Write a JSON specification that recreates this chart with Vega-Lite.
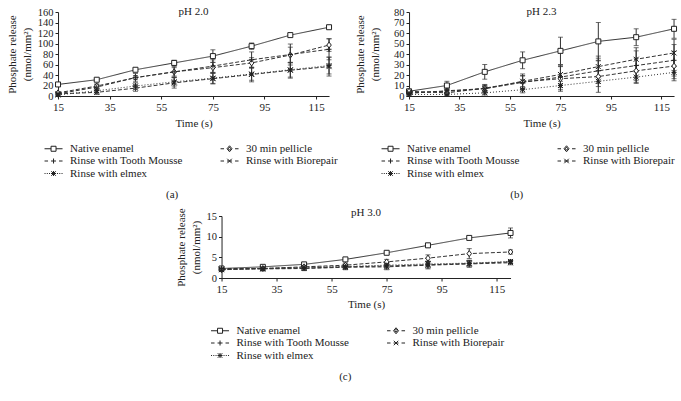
{
"$schema": "https://vega.github.io/schema/vega-lite/v6.json",
"padding": {"left": 6, "top": 6, "right": 0, "bottom": 0},
"background": "white",
"config": {
  "font": "Liberation Serif",
  "view": {"stroke": null},
  "axis": {"labelFont": "Liberation Serif", "titleFont": "Liberation Serif", "labelFontSize": 11, "titleFontSize": 11, "titleFontWeight": "normal", "titleLineHeight": 15, "labelColor": "#222", "titleColor": "#222", "domainColor": "#222", "tickColor": "#222", "grid": false, "tickSize": 3, "labelPadding": 2},
  "axisY": {"labelOverlap": false, "labelFontSize": 10.5},
  "title": {"font": "Liberation Serif", "fontSize": 11, "fontWeight": "normal", "color": "#222"},
  "legend": {"labelFont": "Liberation Serif", "labelFontSize": 11, "labelColor": "#222", "padding": 0},
  "concat": {"spacing": 16}
},
"datasets": {
  "a": [
    {"s":"Native enamel","t":15,"v":22,"e":2},{"s":"Native enamel","t":30,"v":31,"e":2},{"s":"Native enamel","t":45,"v":50,"e":2},{"s":"Native enamel","t":60,"v":63,"e":5},{"s":"Native enamel","t":75,"v":76,"e":12},{"s":"Native enamel","t":90,"v":95,"e":6},{"s":"Native enamel","t":105,"v":116,"e":2},{"s":"Native enamel","t":120,"v":131,"e":2},
    {"s":"30 min pellicle","t":15,"v":6,"e":2},{"s":"30 min pellicle","t":30,"v":19,"e":4},{"s":"30 min pellicle","t":45,"v":35,"e":4},{"s":"30 min pellicle","t":60,"v":46,"e":8},{"s":"30 min pellicle","t":75,"v":54,"e":10},{"s":"30 min pellicle","t":90,"v":63,"e":10},{"s":"30 min pellicle","t":105,"v":78,"e":15},{"s":"30 min pellicle","t":120,"v":97,"e":12},
    {"s":"Rinse with Tooth Mousse","t":15,"v":4,"e":2},{"s":"Rinse with Tooth Mousse","t":30,"v":17,"e":5},{"s":"Rinse with Tooth Mousse","t":45,"v":35,"e":8},{"s":"Rinse with Tooth Mousse","t":60,"v":46,"e":10},{"s":"Rinse with Tooth Mousse","t":75,"v":57,"e":12},{"s":"Rinse with Tooth Mousse","t":90,"v":69,"e":15},{"s":"Rinse with Tooth Mousse","t":105,"v":79,"e":20},{"s":"Rinse with Tooth Mousse","t":120,"v":89,"e":20},
    {"s":"Rinse with Biorepair","t":15,"v":4,"e":2},{"s":"Rinse with Biorepair","t":30,"v":7,"e":4},{"s":"Rinse with Biorepair","t":45,"v":15,"e":6},{"s":"Rinse with Biorepair","t":60,"v":25,"e":10},{"s":"Rinse with Biorepair","t":75,"v":33,"e":10},{"s":"Rinse with Biorepair","t":90,"v":41,"e":14},{"s":"Rinse with Biorepair","t":105,"v":49,"e":15},{"s":"Rinse with Biorepair","t":120,"v":56,"e":18},
    {"s":"Rinse with elmex","t":15,"v":2,"e":2},{"s":"Rinse with elmex","t":30,"v":10,"e":4},{"s":"Rinse with elmex","t":45,"v":19,"e":6},{"s":"Rinse with elmex","t":60,"v":27,"e":8},{"s":"Rinse with elmex","t":75,"v":34,"e":10},{"s":"Rinse with elmex","t":90,"v":42,"e":12},{"s":"Rinse with elmex","t":105,"v":50,"e":14},{"s":"Rinse with elmex","t":120,"v":58,"e":16}
  ],
  "b": [
    {"s":"Native enamel","t":15,"v":4.5,"e":1},{"s":"Native enamel","t":30,"v":10,"e":4},{"s":"Native enamel","t":45,"v":23,"e":7},{"s":"Native enamel","t":60,"v":34,"e":8},{"s":"Native enamel","t":75,"v":43,"e":13},{"s":"Native enamel","t":90,"v":52,"e":18},{"s":"Native enamel","t":105,"v":56,"e":8},{"s":"Native enamel","t":120,"v":64,"e":9},
    {"s":"30 min pellicle","t":15,"v":4.5,"e":1},{"s":"30 min pellicle","t":30,"v":3,"e":2},{"s":"30 min pellicle","t":45,"v":7.5,"e":3},{"s":"30 min pellicle","t":60,"v":13.5,"e":6},{"s":"30 min pellicle","t":75,"v":16.5,"e":12},{"s":"30 min pellicle","t":90,"v":18.5,"e":15},{"s":"30 min pellicle","t":105,"v":24,"e":12},{"s":"30 min pellicle","t":120,"v":28.5,"e":14},
    {"s":"Rinse with Tooth Mousse","t":15,"v":2.5,"e":1},{"s":"Rinse with Tooth Mousse","t":30,"v":5,"e":2},{"s":"Rinse with Tooth Mousse","t":45,"v":7,"e":3},{"s":"Rinse with Tooth Mousse","t":60,"v":13,"e":6},{"s":"Rinse with Tooth Mousse","t":75,"v":18,"e":10},{"s":"Rinse with Tooth Mousse","t":90,"v":24,"e":12},{"s":"Rinse with Tooth Mousse","t":105,"v":29,"e":14},{"s":"Rinse with Tooth Mousse","t":120,"v":34,"e":15},
    {"s":"Rinse with Biorepair","t":15,"v":3,"e":1},{"s":"Rinse with Biorepair","t":30,"v":4.5,"e":2},{"s":"Rinse with Biorepair","t":45,"v":7,"e":4},{"s":"Rinse with Biorepair","t":60,"v":14,"e":7},{"s":"Rinse with Biorepair","t":75,"v":20.5,"e":9},{"s":"Rinse with Biorepair","t":90,"v":28,"e":10},{"s":"Rinse with Biorepair","t":105,"v":35,"e":11},{"s":"Rinse with Biorepair","t":120,"v":41,"e":13},
    {"s":"Rinse with elmex","t":15,"v":1.5,"e":1},{"s":"Rinse with elmex","t":30,"v":1.5,"e":1},{"s":"Rinse with elmex","t":45,"v":3,"e":2},{"s":"Rinse with elmex","t":60,"v":6,"e":3},{"s":"Rinse with elmex","t":75,"v":10,"e":4},{"s":"Rinse with elmex","t":90,"v":14,"e":5},{"s":"Rinse with elmex","t":105,"v":18,"e":5},{"s":"Rinse with elmex","t":120,"v":22.5,"e":6}
  ],
  "c": [
    {"s":"Native enamel","t":15,"v":2.3,"e":0.3},{"s":"Native enamel","t":30,"v":2.7,"e":0.3},{"s":"Native enamel","t":45,"v":3.3,"e":0.3},{"s":"Native enamel","t":60,"v":4.5,"e":0.3},{"s":"Native enamel","t":75,"v":6.1,"e":0.4},{"s":"Native enamel","t":90,"v":7.9,"e":0.5},{"s":"Native enamel","t":105,"v":9.7,"e":0.4},{"s":"Native enamel","t":120,"v":10.9,"e":1.2},
    {"s":"30 min pellicle","t":15,"v":2.0,"e":0.3},{"s":"30 min pellicle","t":30,"v":2.3,"e":0.4},{"s":"30 min pellicle","t":45,"v":2.7,"e":0.4},{"s":"30 min pellicle","t":60,"v":3.1,"e":0.5},{"s":"30 min pellicle","t":75,"v":3.9,"e":0.6},{"s":"30 min pellicle","t":90,"v":4.8,"e":0.8},{"s":"30 min pellicle","t":105,"v":5.9,"e":1.2},{"s":"30 min pellicle","t":120,"v":6.3,"e":0.5},
    {"s":"Rinse with Tooth Mousse","t":15,"v":2.3,"e":0.3},{"s":"Rinse with Tooth Mousse","t":30,"v":2.3,"e":0.5},{"s":"Rinse with Tooth Mousse","t":45,"v":2.4,"e":0.6},{"s":"Rinse with Tooth Mousse","t":60,"v":2.7,"e":0.6},{"s":"Rinse with Tooth Mousse","t":75,"v":2.9,"e":0.7},{"s":"Rinse with Tooth Mousse","t":90,"v":3.2,"e":0.8},{"s":"Rinse with Tooth Mousse","t":105,"v":3.5,"e":0.8},{"s":"Rinse with Tooth Mousse","t":120,"v":3.9,"e":0.4},
    {"s":"Rinse with Biorepair","t":15,"v":2.1,"e":0.3},{"s":"Rinse with Biorepair","t":30,"v":2.2,"e":0.5},{"s":"Rinse with Biorepair","t":45,"v":2.3,"e":0.5},{"s":"Rinse with Biorepair","t":60,"v":2.6,"e":0.6},{"s":"Rinse with Biorepair","t":75,"v":2.7,"e":0.7},{"s":"Rinse with Biorepair","t":90,"v":3.1,"e":0.9},{"s":"Rinse with Biorepair","t":105,"v":3.4,"e":0.8},{"s":"Rinse with Biorepair","t":120,"v":3.7,"e":0.5},
    {"s":"Rinse with elmex","t":15,"v":2.0,"e":0.3},{"s":"Rinse with elmex","t":30,"v":2.3,"e":0.4},{"s":"Rinse with elmex","t":45,"v":2.6,"e":0.5},{"s":"Rinse with elmex","t":60,"v":2.8,"e":0.5},{"s":"Rinse with elmex","t":75,"v":3.1,"e":0.6},{"s":"Rinse with elmex","t":90,"v":3.4,"e":0.7},{"s":"Rinse with elmex","t":105,"v":3.6,"e":0.6},{"s":"Rinse with elmex","t":120,"v":4.0,"e":0.4}
  ]
},
"vconcat": [
  {"hconcat": [
    {"title": {"text": "(a)", "orient": "bottom", "anchor": "middle", "frame": "bounds", "offset": 10},
     "vconcat": [{
      "width": 271, "height": 84,
      "title": {"text": "pH 2.0", "offset": -10, "anchor": "middle", "frame": "group"},
      "data": {"name": "a"},
      "encoding": {
        "x": {"field": "t", "type": "quantitative", "scale": {"domain": [15, 120], "nice": false, "zero": false}, "axis": {"values": [15,35,55,75,95,115], "title": "Time (s)", "labelFlush": false, "titlePadding": 5}},
        "y": {"field": "v", "type": "quantitative", "scale": {"domain": [0, 160], "nice": false}, "axis": {"values": [0,20,40,60,80,100,120,140,160], "title": ["Phosphate release", "(nmol/mm²)"], "titlePadding": 5}}
      },
      "layer": [
        {"mark": {"type": "errorbar", "color": "#333", "thickness": 1, "ticks": {"size": 5, "color": "#333"}}, "encoding": {"yError": {"field": "e"}}},
        {"mark": {"type": "line", "color": "#333", "strokeWidth": 1}, "encoding": {"strokeDash": {"field": "s", "type": "nominal", "scale": {"domain": ["Native enamel","30 min pellicle","Rinse with Tooth Mousse","Rinse with Biorepair","Rinse with elmex"], "range": [[1,0],[4,2],[4,2],[4,2],[1,2]]}, "legend": null}}},
        {"mark": {"type": "point", "filled": false, "fill": "white", "stroke": "#222", "strokeWidth": 1, "opacity": 1, "size": 25}, "encoding": {"shape": {"field": "s", "type": "nominal", "scale": {"domain": ["Native enamel","30 min pellicle","Rinse with Tooth Mousse","Rinse with Biorepair","Rinse with elmex"], "range": ["M-1,-1H1V1H-1Z","M0,-1.2L0.9,0L0,1.2L-0.9,0Z","M-1,0H1M0,-1V1","M-1,-1L1,1M-1,1L1,-1","M-1,-1L1,1M-1,1L1,-1M-1,0H1M0,-1V1"]}, "legend": null}}},
        {"mark": {"type": "point", "filled": false, "color": "#222", "opacity": 0}, "encoding": {"shape": {"field": "s", "type": "nominal", "scale": {"domain": ["Native enamel","Rinse with Tooth Mousse","Rinse with elmex","30 min pellicle","Rinse with Biorepair"], "range": ["M-1.8,0H-0.5M0.5,0H1.8M-0.5,-0.5H0.5V0.5H-0.5Z","M-1.8,0H-1.1M1.1,0H1.8M-0.5,0H0.5M0,-0.5V0.5","M-1.8,0H-1.6M-1.35,0H-1.15M-0.9,0H-0.7M0.7,0H0.9M1.15,0H1.35M1.6,0H1.8M-0.45,-0.45L0.45,0.45M-0.45,0.45L0.45,-0.45M-0.5,0H0.5M0,-0.5V0.5","M-1.8,0H-1.1M1.1,0H1.8M0,-0.6L0.5,0L0,0.6L-0.5,0ZM0,-0.3L0.25,0L0,0.3L-0.25,0Z","M-1.8,0H-1.1M1.1,0H1.8M-0.45,-0.45L0.45,0.45M-0.45,0.45L0.45,-0.45M-0.5,0H0.5"]},
          "legend": {"orient": "none", "legendX": -10, "legendY": 131, "columns": 2, "columnPadding": 35, "rowPadding": 0.5, "symbolSize": 100, "symbolStrokeWidth": 1, "symbolOpacity": 1, "symbolStrokeColor": "#222", "labelOffset": 11, "title": null}}}}
      ],
      "resolve": {"scale": {"shape": "independent"}}
    }]},
    {"title": {"text": "(b)", "orient": "bottom", "anchor": "middle", "frame": "bounds", "offset": 10},
     "vconcat": [{
      "width": 265, "height": 84,
      "title": {"text": "pH 2.3", "offset": -10, "anchor": "middle", "frame": "group"},
      "data": {"name": "b"},
      "encoding": {
        "x": {"field": "t", "type": "quantitative", "scale": {"domain": [15, 120], "nice": false, "zero": false}, "axis": {"values": [15,35,55,75,95,115], "title": "Time (s)", "labelFlush": false, "titlePadding": 5}},
        "y": {"field": "v", "type": "quantitative", "scale": {"domain": [0, 80], "nice": false}, "axis": {"values": [0,10,20,30,40,50,60,70,80], "title": ["Phosphate release", "(nmol/mm²)"], "titlePadding": 13}}
      },
      "layer": [
        {"mark": {"type": "errorbar", "color": "#333", "thickness": 1, "ticks": {"size": 5, "color": "#333"}}, "encoding": {"yError": {"field": "e"}}},
        {"mark": {"type": "line", "color": "#333", "strokeWidth": 1}, "encoding": {"strokeDash": {"field": "s", "type": "nominal", "scale": {"domain": ["Native enamel","30 min pellicle","Rinse with Tooth Mousse","Rinse with Biorepair","Rinse with elmex"], "range": [[1,0],[4,2],[4,2],[4,2],[1,2]]}, "legend": null}}},
        {"mark": {"type": "point", "filled": false, "fill": "white", "stroke": "#222", "strokeWidth": 1, "opacity": 1, "size": 25}, "encoding": {"shape": {"field": "s", "type": "nominal", "scale": {"domain": ["Native enamel","30 min pellicle","Rinse with Tooth Mousse","Rinse with Biorepair","Rinse with elmex"], "range": ["M-1,-1H1V1H-1Z","M0,-1.2L0.9,0L0,1.2L-0.9,0Z","M-1,0H1M0,-1V1","M-1,-1L1,1M-1,1L1,-1","M-1,-1L1,1M-1,1L1,-1M-1,0H1M0,-1V1"]}, "legend": null}}},
        {"mark": {"type": "point", "filled": false, "color": "#222", "opacity": 0}, "encoding": {"shape": {"field": "s", "type": "nominal", "scale": {"domain": ["Native enamel","Rinse with Tooth Mousse","Rinse with elmex","30 min pellicle","Rinse with Biorepair"], "range": ["M-1.8,0H-0.5M0.5,0H1.8M-0.5,-0.5H0.5V0.5H-0.5Z","M-1.8,0H-1.1M1.1,0H1.8M-0.5,0H0.5M0,-0.5V0.5","M-1.8,0H-1.6M-1.35,0H-1.15M-0.9,0H-0.7M0.7,0H0.9M1.15,0H1.35M1.6,0H1.8M-0.45,-0.45L0.45,0.45M-0.45,0.45L0.45,-0.45M-0.5,0H0.5M0,-0.5V0.5","M-1.8,0H-1.1M1.1,0H1.8M0,-0.6L0.5,0L0,0.6L-0.5,0ZM0,-0.3L0.25,0L0,0.3L-0.25,0Z","M-1.8,0H-1.1M1.1,0H1.8M-0.45,-0.45L0.45,0.45M-0.45,0.45L0.45,-0.45M-0.5,0H0.5"]},
          "legend": {"orient": "none", "legendX": -24, "legendY": 131, "columns": 2, "columnPadding": 35, "rowPadding": 0.5, "symbolSize": 100, "symbolStrokeWidth": 1, "symbolOpacity": 1, "symbolStrokeColor": "#222", "labelOffset": 11, "title": null}}}}
      ],
      "resolve": {"scale": {"shape": "independent"}}
    }]}
  ]},
  {"title": {"text": "(c)", "orient": "bottom", "anchor": "middle", "frame": "bounds", "offset": 10},
   "vconcat": [{
    "width": 289, "height": 62,
    "title": {"text": "pH 3.0", "offset": -10, "anchor": "middle", "frame": "group"},
    "data": {"name": "c"},
    "encoding": {
      "x": {"field": "t", "type": "quantitative", "scale": {"domain": [15, 120], "nice": false, "zero": false}, "axis": {"values": [15,35,55,75,95,115], "title": "Time (s)", "labelFlush": false, "titlePadding": 4}},
      "y": {"field": "v", "type": "quantitative", "scale": {"domain": [0, 15], "nice": false}, "axis": {"values": [0,5,10,15], "title": ["Phosphate release", "(nmol/mm²)"], "titlePadding": 5}}
    },
    "layer": [
      {"mark": {"type": "errorbar", "color": "#333", "thickness": 1, "ticks": {"size": 5, "color": "#333"}}, "encoding": {"yError": {"field": "e"}}},
      {"mark": {"type": "line", "color": "#333", "strokeWidth": 1}, "encoding": {"strokeDash": {"field": "s", "type": "nominal", "scale": {"domain": ["Native enamel","30 min pellicle","Rinse with Tooth Mousse","Rinse with Biorepair","Rinse with elmex"], "range": [[1,0],[4,2],[4,2],[4,2],[1,2]]}, "legend": null}}},
      {"mark": {"type": "point", "filled": false, "fill": "white", "stroke": "#222", "strokeWidth": 1, "opacity": 1, "size": 25}, "encoding": {"shape": {"field": "s", "type": "nominal", "scale": {"domain": ["Native enamel","30 min pellicle","Rinse with Tooth Mousse","Rinse with Biorepair","Rinse with elmex"], "range": ["M-1,-1H1V1H-1Z","M0,-1.2L0.9,0L0,1.2L-0.9,0Z","M-1,0H1M0,-1V1","M-1,-1L1,1M-1,1L1,-1","M-1,-1L1,1M-1,1L1,-1M-1,0H1M0,-1V1"]}, "legend": null}}},
      {"mark": {"type": "point", "filled": false, "color": "#222", "opacity": 0}, "encoding": {"shape": {"field": "s", "type": "nominal", "scale": {"domain": ["Native enamel","Rinse with Tooth Mousse","Rinse with elmex","30 min pellicle","Rinse with Biorepair"], "range": ["M-1.8,0H-0.5M0.5,0H1.8M-0.5,-0.5H0.5V0.5H-0.5Z","M-1.8,0H-1.1M1.1,0H1.8M-0.5,0H0.5M0,-0.5V0.5","M-1.8,0H-1.6M-1.35,0H-1.15M-0.9,0H-0.7M0.7,0H0.9M1.15,0H1.35M1.6,0H1.8M-0.45,-0.45L0.45,0.45M-0.45,0.45L0.45,-0.45M-0.5,0H0.5M0,-0.5V0.5","M-1.8,0H-1.1M1.1,0H1.8M0,-0.6L0.5,0L0,0.6L-0.5,0ZM0,-0.3L0.25,0L0,0.3L-0.25,0Z","M-1.8,0H-1.1M1.1,0H1.8M-0.45,-0.45L0.45,0.45M-0.45,0.45L0.45,-0.45M-0.5,0H0.5"]},
        "legend": {"orient": "none", "legendX": -7, "legendY": 109, "columns": 2, "columnPadding": 35, "rowPadding": 0.5, "symbolSize": 100, "symbolStrokeWidth": 1, "symbolOpacity": 1, "symbolStrokeColor": "#222", "labelOffset": 11, "title": null}}}}
    ],
    "resolve": {"scale": {"shape": "independent"}}
  }]}
],
"center": true,
"spacing": 6
}
